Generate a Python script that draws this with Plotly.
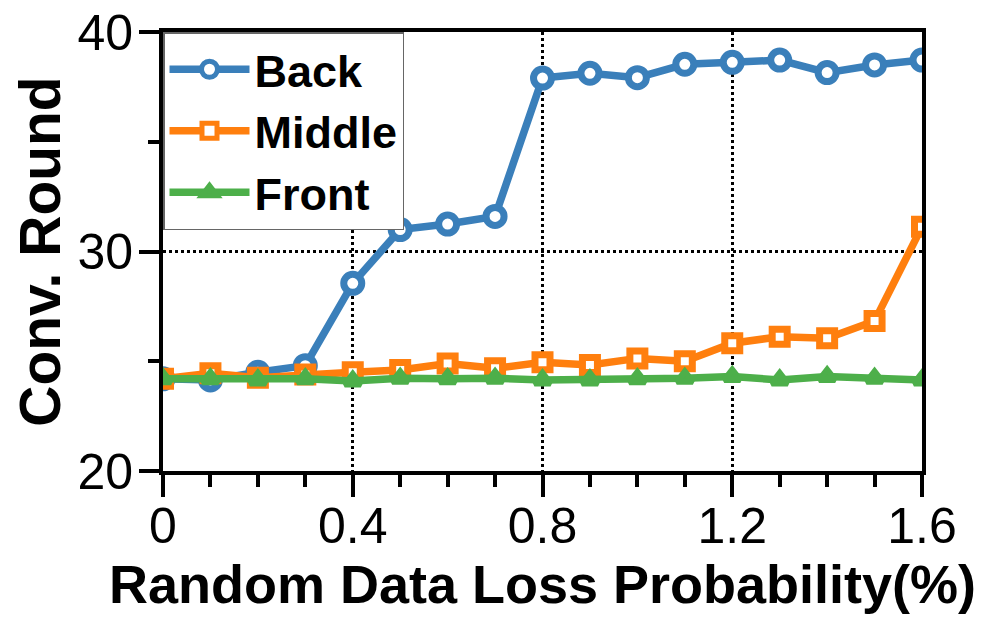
import plotly.graph_objects as go

x_vals = [0.0, 0.1, 0.2, 0.3, 0.4, 0.5, 0.6, 0.7, 0.8, 0.9, 1.0, 1.1, 1.2, 1.3, 1.4, 1.5, 1.6]
back = [24.2, 24.15, 24.5, 24.8, 28.55, 31.0, 31.25, 31.6, 37.9, 38.12, 37.92, 38.53, 38.62, 38.72, 38.15, 38.5, 38.72]
middle = [24.2, 24.45, 24.25, 24.4, 24.5, 24.6, 24.9, 24.68, 24.95, 24.83, 25.13, 25.0, 25.82, 26.12, 26.05, 26.83, 31.13]
front = [24.2, 24.2, 24.15, 24.2, 24.1, 24.22, 24.2, 24.22, 24.15, 24.15, 24.2, 24.22, 24.3, 24.15, 24.3, 24.22, 24.15]
series_names = ["Back", "Middle", "Front"]
x_tick_vals = [0, 0.4, 0.8, 1.2, 1.6]
x_tick_text = ["0", "0.4", "0.8", "1.2", "1.6"]
y_tick_vals = [20, 30, 40]
y_tick_text = ["20", "30", "40"]

FONT = "Liberation Sans, Arial, sans-serif"

fig = go.Figure()
styles = [
    ("#3a7fba", "circle", 18, "white", 7, back),
    ("#ff7f0e", "square", 15, "white", 7, middle),
    ("#4daf4a", "triangle-up", 14, "#4daf4a", 6, front),
]
for name, (color, sym, size, fill, lw, ys) in zip(series_names, styles):
    fig.add_trace(go.Scatter(
        x=x_vals, y=ys, name=name, mode="lines+markers",
        line=dict(color=color, width=7.5),
        marker=dict(symbol=sym, size=size, color=fill,
                    line=dict(color=color, width=lw)),
    ))

fig.update_layout(
    width=983, height=619,
    margin=dict(l=155, r=69, t=24, b=156),
    paper_bgcolor="white", plot_bgcolor="white",
    font=dict(family=FONT, color="black"),
    legend=dict(
        x=0, y=1, xanchor="left", yanchor="top",
        bgcolor="white", bordercolor="#666666", borderwidth=1.5,
        font=dict(family=FONT, size=45, color="black", weight="bold"),
        itemwidth=80, tracegroupgap=0,
    ),
    showlegend=True,
)
fig.update_xaxes(
    range=[0, 1.6], tickmode="array", tickvals=x_tick_vals, ticktext=x_tick_text,
    ticks="outside", ticklen=22, tickwidth=4, tickcolor="black",
    minor=dict(dtick=0.1, ticks="outside", ticklen=12, tickwidth=4, tickcolor="black", showgrid=False),
    showline=True, linewidth=4, linecolor="black", mirror=True,
    showgrid=True, gridcolor="black", gridwidth=3, griddash="dot",
    zeroline=False, automargin=False, ticklabelstandoff=-14, ticklabeloverflow="allow",
    tickfont=dict(family=FONT, size=50),
    title=dict(text="<b>Random Data Loss Probability(%)</b>", font=dict(family=FONT, size=54), standoff=0),
)
fig.update_yaxes(
    range=[20, 40], tickmode="array", tickvals=y_tick_vals, ticktext=y_tick_text,
    ticks="outside", ticklen=20, tickwidth=4, tickcolor="black",
    minor=dict(dtick=5, ticks="outside", ticklen=11, tickwidth=4, tickcolor="black", showgrid=False),
    showline=True, linewidth=4, linecolor="black", mirror=True,
    showgrid=True, gridcolor="black", gridwidth=3, griddash="dot",
    zeroline=False, automargin=False, ticklabelstandoff=-4, ticklabeloverflow="allow",
    tickfont=dict(family=FONT, size=50),
    title=dict(text="<b>Conv. Round</b>", font=dict(family=FONT, size=57), standoff=2),
)

fig.write_html("out.html")
